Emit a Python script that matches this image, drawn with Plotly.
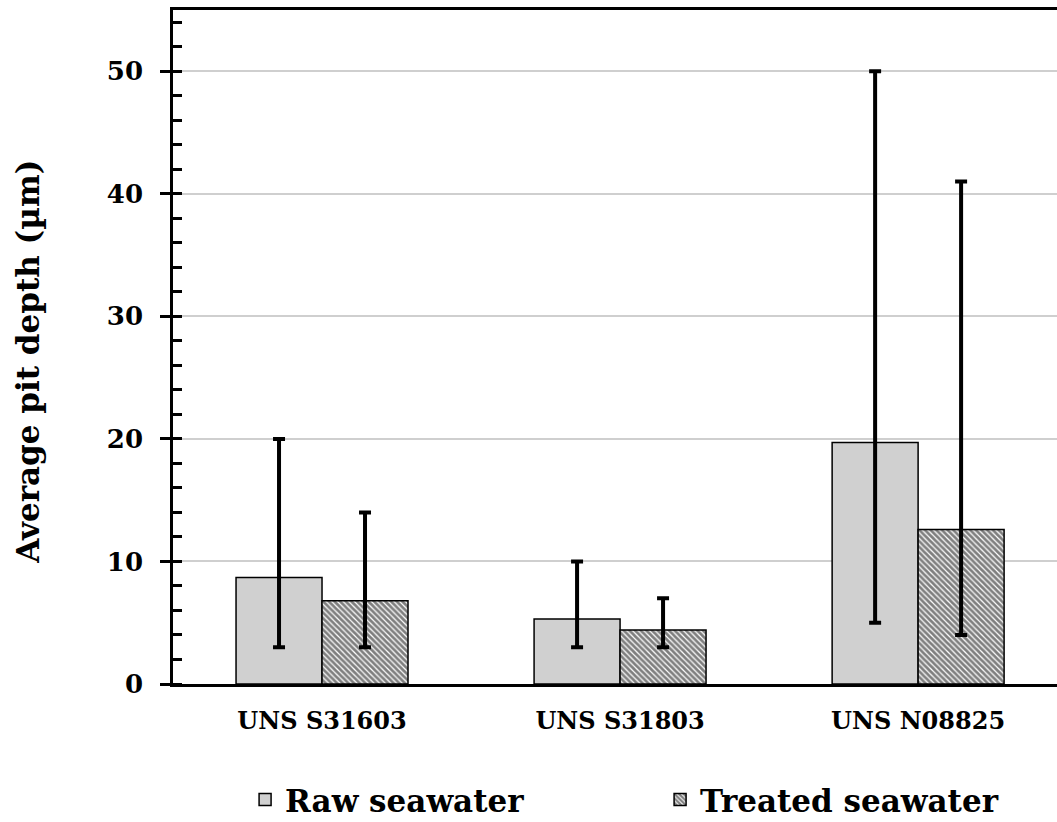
import plotly.graph_objects as go

categories = ["UNS S31603", "UNS S31803", "UNS N08825"]
raw_mean = [8.7, 5.3, 19.7]
raw_upper = [20, 10, 50]
raw_lower = [3, 3, 5]
treated_mean = [6.8, 4.4, 12.6]
treated_upper = [14, 7, 41]
treated_lower = [3, 3, 4]

FONT = "DejaVu Serif"

def err(mean, up, lo):
    return dict(type="data", symmetric=False,
                array=[u - m for u, m in zip(up, mean)],
                arrayminus=[m - l for m, l in zip(mean, lo)],
                color="black", thickness=4, width=6)

fig = go.Figure()
fig.add_trace(go.Bar(
    name="Raw seawater", x=categories, y=raw_mean,
    marker=dict(color="#d0d0d0", line=dict(color="black", width=1.5)),
    error_y=err(raw_mean, raw_upper, raw_lower),
))
fig.add_trace(go.Bar(
    name="Treated seawater", x=categories, y=treated_mean,
    marker=dict(color="white", line=dict(color="black", width=1.5),
                pattern=dict(shape="\\", fgcolor="black", bgcolor="white",
                             size=4, solidity=0.7)),
    error_y=err(treated_mean, treated_upper, treated_lower),
))

fig.update_layout(
    width=1057, height=822,
    margin=dict(l=173, r=0, t=10, b=138, autoexpand=False),
    paper_bgcolor="white", plot_bgcolor="white",
    barmode="group", bargap=0.423, bargroupgap=0,
    font=dict(family=FONT, color="black"),
    showlegend=True,
    legend=dict(orientation="h", x=0.551, xanchor="center",
                y=0.027, yref="container", yanchor="middle",
                font=dict(family=FONT, size=31, color="black", weight="bold"),
                entrywidth=370, entrywidthmode="pixels"),
    annotations=[dict(text="Average pit depth (µm)", textangle=-90,
                      xref="paper", yref="paper", x=-0.164, y=0.478,
                      xanchor="center", yanchor="middle", showarrow=False,
                      font=dict(family=FONT, size=31, color="black", weight="bold"))],
)
fig.update_xaxes(
    type="category", range=[-0.5, 2.466],
    showline=True, linecolor="black", linewidth=2.5, mirror=True,
    ticks="", showgrid=False, ticklabelstandoff=13,
    tickfont=dict(family=FONT, size=24, color="black", weight="bold"),
)
fig.update_yaxes(
    range=[0, 55], dtick=10, tick0=0,
    showline=True, linecolor="black", linewidth=2.5,
    ticks="outside", ticklen=10, tickwidth=2.5, tickcolor="black",
    showgrid=True, gridcolor="#cfcfcf", gridwidth=1.5,
    zeroline=False, ticklabelstandoff=12,
    minor=dict(dtick=2, tick0=0, ticks="inside", ticklen=9, tickwidth=2.5, tickcolor="black", showgrid=False),
    tickfont=dict(family=FONT, size=26, color="black", weight="bold"),
)

fig.write_html("out.html")
